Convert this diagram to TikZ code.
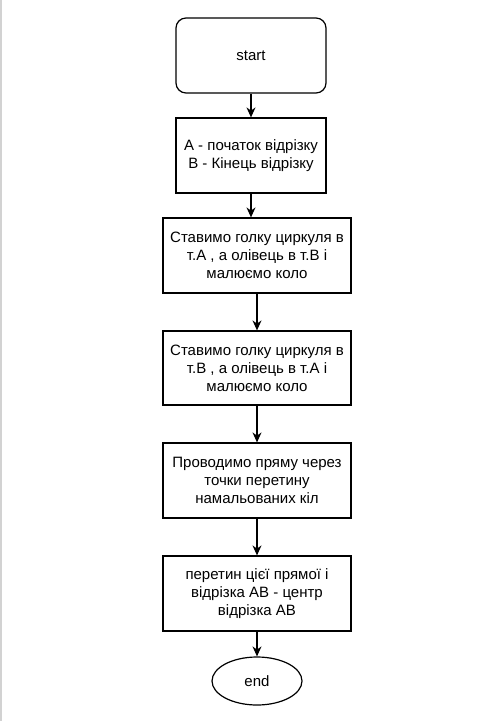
\documentclass[tikz,border=0pt]{standalone}
\usepackage{fontspec}
\setmainfont{Liberation Sans}
\usetikzlibrary{shapes.geometric,arrows.meta}

\begin{document}
\begin{tikzpicture}[x=1pt,y=-1pt,
	blk/.style={draw, line width=1.2pt, align=center, inner sep=0pt, font=\fontsize{15}{18}\selectfont},
	flow/.style={-{Stealth[length=10pt,width=9pt]}, line width=1.2pt}]
	\useasboundingbox (0,0) rectangle (488,722);
	%Rand
	\draw[gray!35, line width=1.5pt] (0.75,0)--(0.75,721);

	%Bloecke
	\node[blk, rounded corners=10pt, minimum width=150pt, minimum height=75pt] (start) at (251,55.5) {start};
	\node[blk, minimum width=150pt, minimum height=75pt] (init) at (251,155.5) {А - початок відрізку\\В - Кінець відрізку};
	\node[blk, minimum width=188pt, minimum height=75pt] (circA) at (257,255.5) {Ставимо голку циркуля в\\т.А , а олівець в т.В і\\малюємо коло};
	\node[blk, minimum width=188pt, minimum height=74pt] (circB) at (257,368) {Ставимо голку циркуля в\\т.В , а олівець в т.А і\\малюємо коло};
	\node[blk, minimum width=188pt, minimum height=75pt] (line) at (257,480.5) {Проводимо пряму через\\точки перетину\\намальованих кіл};
	\node[blk, minimum width=188pt, minimum height=75pt] (mid) at (257,593.5) {перетин цієї прямої і\\відрізка АВ - центр\\відрізка АВ};
	\node[blk, ellipse, minimum width=90pt, minimum height=48pt] (end) at (257,681) {end};

	%Pfeile
	\draw[flow] (start)--(init);
	\draw[flow] (init.south)--(init.south |- circA.north);
	\draw[flow] (circA)--(circB);
	\draw[flow] (circB)--(line);
	\draw[flow] (line)--(mid);
	\draw[flow] (mid)--(end);
\end{tikzpicture}
\end{document}
